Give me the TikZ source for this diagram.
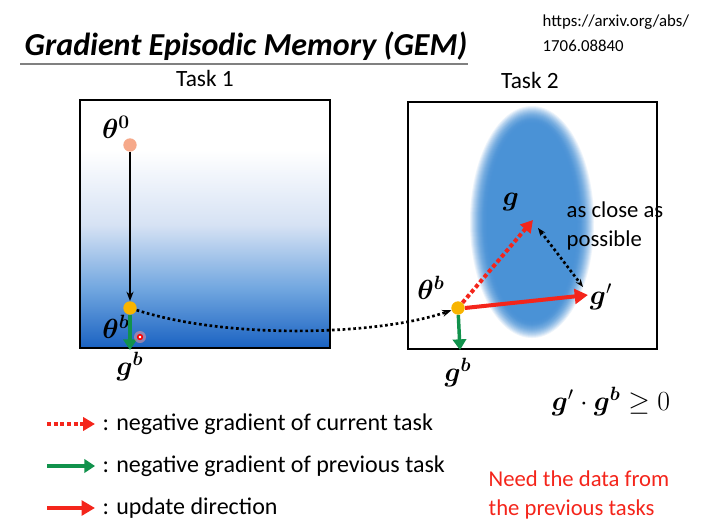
\documentclass[tikz,border=0pt]{standalone}
\usepackage{amsmath, amssymb, bm}
\usepackage{fontspec}
\setmainfont{Carlito}
\usepackage{tikz}
\usetikzlibrary{positioning, arrows.meta, calc}
\usepackage{xcolor}
\definecolor{gemblue}{HTML}{4A92D6}
\definecolor{paleblue}{HTML}{D6E2F4}
\definecolor{midblue}{HTML}{6FA5DF}
\definecolor{deepblue}{HTML}{1A62C2}
\definecolor{thetaorange}{HTML}{F6A98A}
\definecolor{thetayellow}{HTML}{F8B400}
\definecolor{gemgreen}{HTML}{11924C}
\definecolor{gemred}{HTML}{F4251B}
\tikzset{
    param/.style={circle, inner sep=0pt, minimum size=10pt},
    mathlbl/.style={font=\fontsize{20}{24}\selectfont},
    tasklbl/.style={font=\fontsize{17.5}{20}\selectfont},
    legtext/.style={font=\fontsize{18}{22}\selectfont, anchor=west},
    taskbox/.style={draw=black, line width=1.6pt},
    curgrad/.style={gemred, line width=3pt, dash pattern=on 3pt off 2pt, -{Triangle[length=9pt, width=10pt]}},
    prevgrad/.style={gemgreen, line width=2.6pt, -{Triangle[length=8pt, width=10pt]}},
    update/.style={gemred, line width=3pt, -{Triangle[length=10pt, width=11pt]}},
    memdot/.style={black, line width=2pt, dash pattern=on 2pt off 2pt}
}
\newcommand{\bth}{\boldsymbol{\theta}}
\newcommand{\bg}{\boldsymbol{g}}
\newcommand{\bsup}{\boldsymbol{b}}

\begin{document}
\begin{tikzpicture}[x=0.75pt, y=-0.75pt]
  \useasboundingbox (0,0) rectangle (719,532);

  % title and reference
  \node[anchor=base west, font=\fontsize{24}{28}\selectfont\bfseries\itshape] (title) at (20,55) {Gradient Episodic Memory (GEM)};
  \draw[gray, line width=1.5pt] (20,64) -- (468,64);
  \node[anchor=north west, align=left, font=\fontsize{12.6}{19}\selectfont] (url) at (538,10) {https://arxiv.org/abs/\\1706.08840};

  % task 1
  \node[tasklbl, anchor=base] (task1) at (205,86) {Task 1};
  \fill[white] (80,100) rectangle (330,348);
  \shade[top color=white, bottom color=paleblue] (80,150) rectangle (330,225);
  \shade[top color=paleblue, bottom color=midblue] (80,225) rectangle (330,290);
  \shade[top color=midblue, bottom color=deepblue] (80,290) rectangle (330,348);
  \draw[taskbox] (80,100) rectangle (330,348);

  \node[param, fill=thetaorange] (t0) at (130,145) {};
  \node[param, fill=thetayellow] (tb1) at (130,308) {};
  \node[mathlbl] at (116,127) {$\bth^{\boldsymbol{0}}$};
  \node[mathlbl] at (116,327) {$\bth^{\bsup}$};
  \node[mathlbl] (gb1) at (130,367) {$\bg^{\bsup}$};
  \coordinate (gend1) at (130,350);
  \draw[black, line width=1.3pt, -{Stealth[length=7pt]}] (t0) -- (tb1);
  \draw[prevgrad] (tb1) -- (gend1);
  \fill[red!40, opacity=0.5] (140,337) circle (6);
  \draw[red, line width=1.2pt, fill=white] (140,337) circle (2.3);

  % task 2
  \node[tasklbl, anchor=base] (task2) at (530,88) {Task 2};
  \draw[taskbox, fill=white] (408,102) rectangle (657,349);
  \foreach \k in {0,...,18} {
    \pgfmathtruncatemacro\pct{100*(1-(1-\k/18)^2)}
    \fill[gemblue!\pct!white] (532,222) ellipse ({63-\k} and {117-\k});
  }
  \draw[taskbox] (408,102) rectangle (657,349);

  \node[param, fill=thetayellow] (tb2) at (458,308) {};
  \node[mathlbl] at (431,288) {$\bth^{\bsup}$};
  \node[mathlbl] (gb2) at (458,373) {$\bg^{\bsup}$};
  \coordinate (gend2) at (460,350);
  \coordinate (gtip) at (533,220);
  \coordinate (gptip) at (588,295);
  \node[mathlbl] (g) at (511,202) {$\bg$};
  \node[mathlbl] (gp) at (601,297) {$\bg'$};
  \draw[prevgrad] (tb2) -- (gend2);
  \draw[curgrad] (tb2) -- (gtip);
  \draw[update] (tb2.east) -- (gptip);
  \draw[memdot, {Stealth[length=6pt]}-{Stealth[length=6pt]}] (538,228) -- (583,287);
  \node[anchor=north west, align=left, font=\fontsize{17}{22}\selectfont] (close) at (562,197) {as close as\\possible};

  % memory path between tasks
  \draw[memdot, -{Stealth[length=7pt]}] (tb1) .. controls (230,340) and (380,335) .. (tb2);

  \node[mathlbl] (ineq) at (611,402) {$\bg'\cdot\bg^{\bsup}\geq 0$};

  % legend
  \coordinate (l1a) at (47,424); \coordinate (l1b) at (95,424);
  \coordinate (l2a) at (47,466); \coordinate (l2b) at (95,466);
  \coordinate (l3a) at (47,508); \coordinate (l3b) at (95,508);
  \draw[curgrad] (l1a) -- (l1b);
  \draw[prevgrad, line width=3pt] (l2a) -- (l2b);
  \draw[update] (l3a) -- (l3b);
  \node[legtext] (leg1) at (98,424) {: negative gradient of current task};
  \node[legtext] (leg2) at (98,466) {: negative gradient of previous task};
  \node[legtext] (leg3) at (98,508) {: update direction};

  \node[anchor=north west, align=left, text=gemred, font=\fontsize{17}{22}\selectfont] (need) at (484,466) {Need the data from\\the previous tasks};
\end{tikzpicture}
\end{document}
